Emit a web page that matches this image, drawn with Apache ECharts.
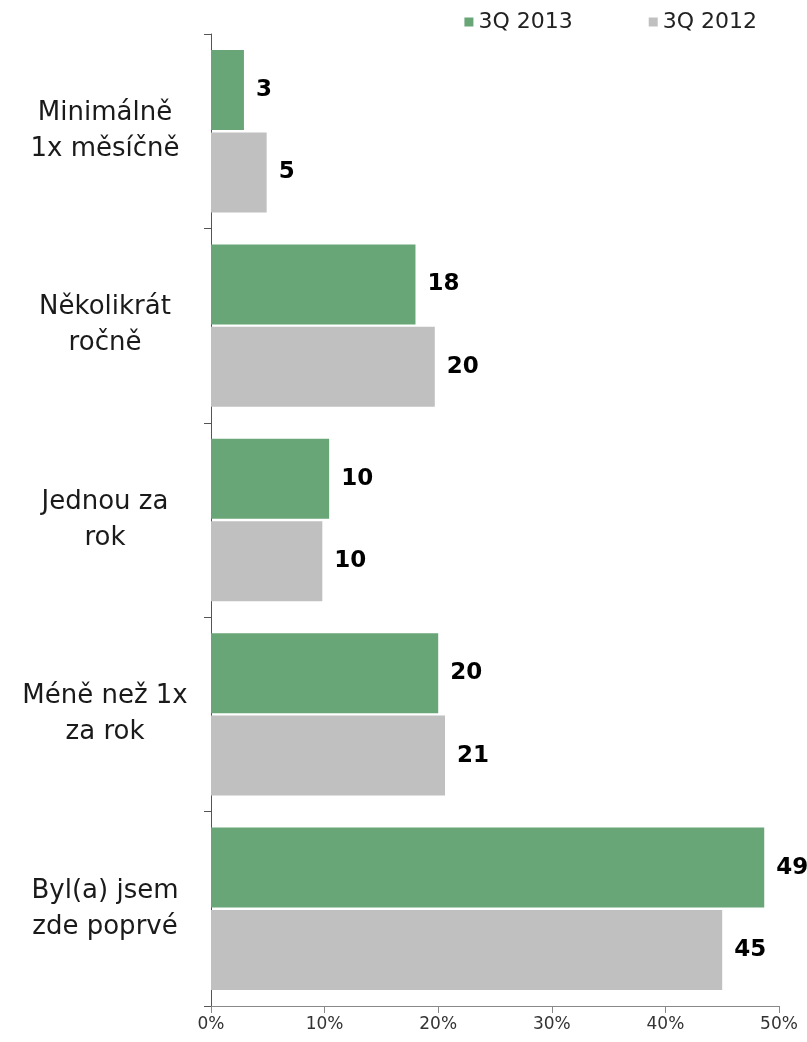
<!DOCTYPE html>
<html>
<head>
<meta charset="utf-8">
<script src="https://cdn.jsdelivr.net/npm/echarts@6/dist/echarts.min.js"></script>
<style>
  html, body { margin: 0; padding: 0; background: #fff; }
  #chart { width: 807px; height: 1042px; }
</style>
</head>
<body>
<div id="chart"></div>
<script>
const categories = [
  'Minimálně\n1x měsíčně',
  'Několikrát\nročně',
  'Jednou za\nrok',
  'Méně než 1x\nza rok',
  'Byl(a) jsem\nzde poprvé'
];
const values2013 = [2.9, 18.0, 10.4, 20.0, 48.7];
const values2012 = [4.9, 19.7, 9.8, 20.6, 45.0];
const xTicks = [0, 10, 20, 30, 40, 50];

const chart = echarts.init(document.getElementById('chart'));

const valueLabel = {
  show: true,
  position: 'right',
  distance: 12,
  fontFamily: 'DejaVu Sans',
  fontWeight: 'bold',
  fontSize: 23,
  color: '#000',
  formatter: (p) => Math.round(p.value)
};

const option = {
  animation: false,
  legend: {
    data: ['3Q 2013', '3Q 2012'],
    top: 6,
    right: 45,
    itemWidth: 9,
    itemHeight: 9,
    itemGap: 76,
    icon: 'rect',
    textStyle: { fontFamily: 'DejaVu Sans', fontSize: 22, color: '#222' }
  },
  grid: { left: 211, right: 28, top: 34, bottom: 36 },
  xAxis: {
    type: 'value',
    min: xTicks[0],
    max: xTicks[xTicks.length - 1],
    interval: 10,
    axisLine: { show: true, lineStyle: { color: '#888' } },
    axisTick: { show: true, length: 7, lineStyle: { color: '#888' } },
    splitLine: { show: false },
    axisLabel: {
      formatter: '{value}%',
      fontFamily: 'DejaVu Sans',
      fontSize: 17,
      color: '#333',
      margin: 10
    }
  },
  yAxis: {
    type: 'category',
    inverse: true,
    data: categories,
    axisLine: { lineStyle: { color: '#555' } },
    axisTick: { show: true, length: 7, lineStyle: { color: '#555' } },
    axisLabel: {
      fontFamily: 'DejaVu Sans',
      fontSize: 26,
      lineHeight: 36,
      color: '#1a1a1a',
      align: 'center',
      margin: 106
    }
  },
  series: [
    {
      name: '3Q 2013',
      type: 'bar',
      data: values2013,
      barWidth: 80,
      barGap: '3%',
      itemStyle: { color: '#68a677' },
      label: valueLabel
    },
    {
      name: '3Q 2012',
      type: 'bar',
      data: values2012,
      barWidth: 80,
      itemStyle: { color: '#c0c0c0' },
      label: valueLabel
    }
  ]
};

chart.setOption(option);
</script>
</body>
</html>
